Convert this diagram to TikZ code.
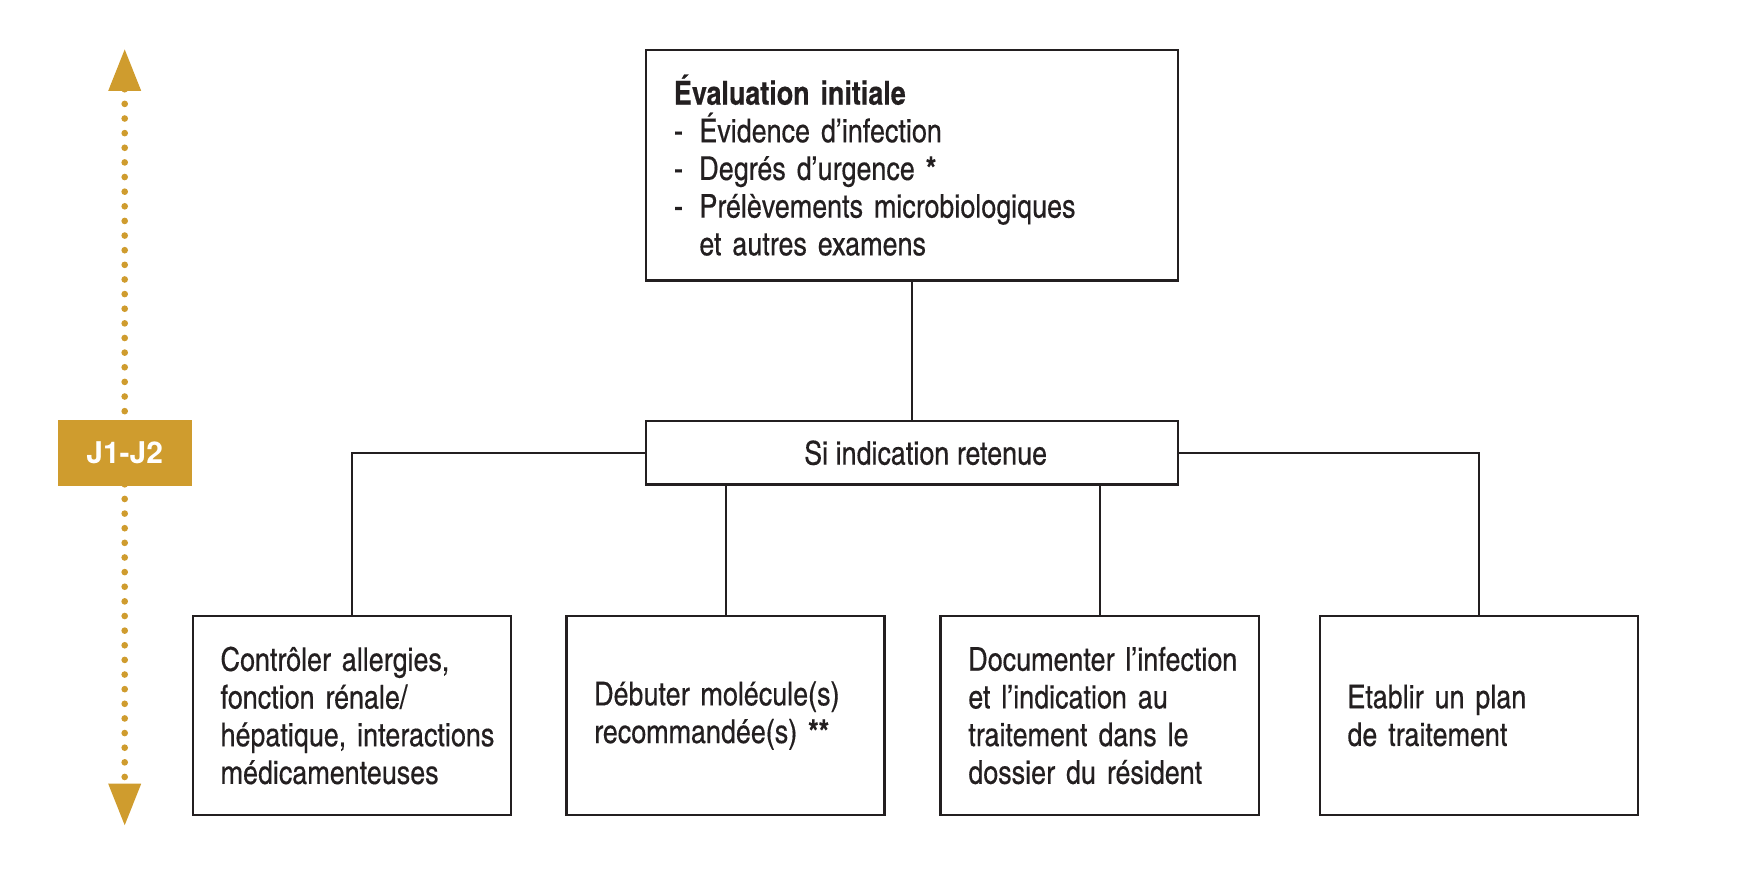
\documentclass[tikz,border=0pt]{standalone}
\usepackage{fontspec}
\setmainfont{TeX Gyre Heros Cn}[UprightFeatures={FakeBold=0.3}, BoldFeatures={FakeBold=0.4}]
\newfontfamily\largefont{TeX Gyre Heros}
\usepackage{tikz}
\usetikzlibrary{arrows.meta,positioning}
\definecolor{or}{RGB}{207,156,46}
\definecolor{encre}{RGB}{35,31,32}

\begin{document}
\begin{tikzpicture}[x=0.5pt,y=-0.5pt,
    font=\fontsize{14.8}{17}\selectfont, line width=0.9pt, draw=encre, text=encre,
    etape/.style={draw, line width=1pt, align=left, inner xsep=12.5pt, inner ysep=0pt},
    petite/.style={etape, text width=118.5pt, minimum height=89.5pt},
    jours/.style={fill=or, text=white, minimum width=60.5pt, minimum height=29.5pt,
      font=\largefont\bfseries\fontsize{13.5}{16}\selectfont}]
  \useasboundingbox (0,0) rectangle (1567,800);
  \node[etape, text width=215pt, minimum height=104pt] (eval) at (823,149)
    {\textbf{Évaluation initiale}\\
     -\enspace Évidence d’infection\\
     -\enspace Degrés d’urgence \textbf{*}\\
     -\enspace Prélèvements microbiologiques\\
     \phantom{-\enspace}et autres examens};
  \node[etape, align=center, minimum width=240pt, minimum height=28.5pt] (si) at (823,408.5)
    {\hspace*{12pt}Si indication retenue};
  \node[petite] (allerg) at (317.5,645.5)
    {Contrôler allergies,\\ fonction rénale/\\ \mbox{hépatique, interactions}\\ médicamenteuses};
  \node[petite] (debut) at (654.5,645.5)
    {Débuter molécule(s)\\ recommandée(s) \textbf{**}};
  \node[petite] (doc) at (992,645.5)
    {\mbox{Documenter l’infection}\\ et l’indication au\\ traitement dans le\\ dossier du résident};
  \node[petite] (plan) at (1334,645.5)
    {Etablir un plan\\ de traitement};
  \draw (eval) -- (si);
  \draw (si.west) -| (allerg.north);
  \draw (si.east) -| (plan.north);
  \draw (debut.north |- si.south) -- (debut.north);
  \draw (doc.north |- si.south) -- (doc.north);
  \node[jours] (j) at (112.5,408.5) {J1-J2};
  \coordinate (haut) at (112.5,44);
  \coordinate (bas) at (112.5,745);
  \draw[or, line width=3pt, line cap=round, dash pattern=on 0pt off 6.6pt,
    {Triangle[width=14pt,length=19pt]}-{Triangle[width=14pt,length=19pt]}]
    (haut) -- (bas);
  \node[jours] at (j) {J1-J2};
\end{tikzpicture}
\end{document}
